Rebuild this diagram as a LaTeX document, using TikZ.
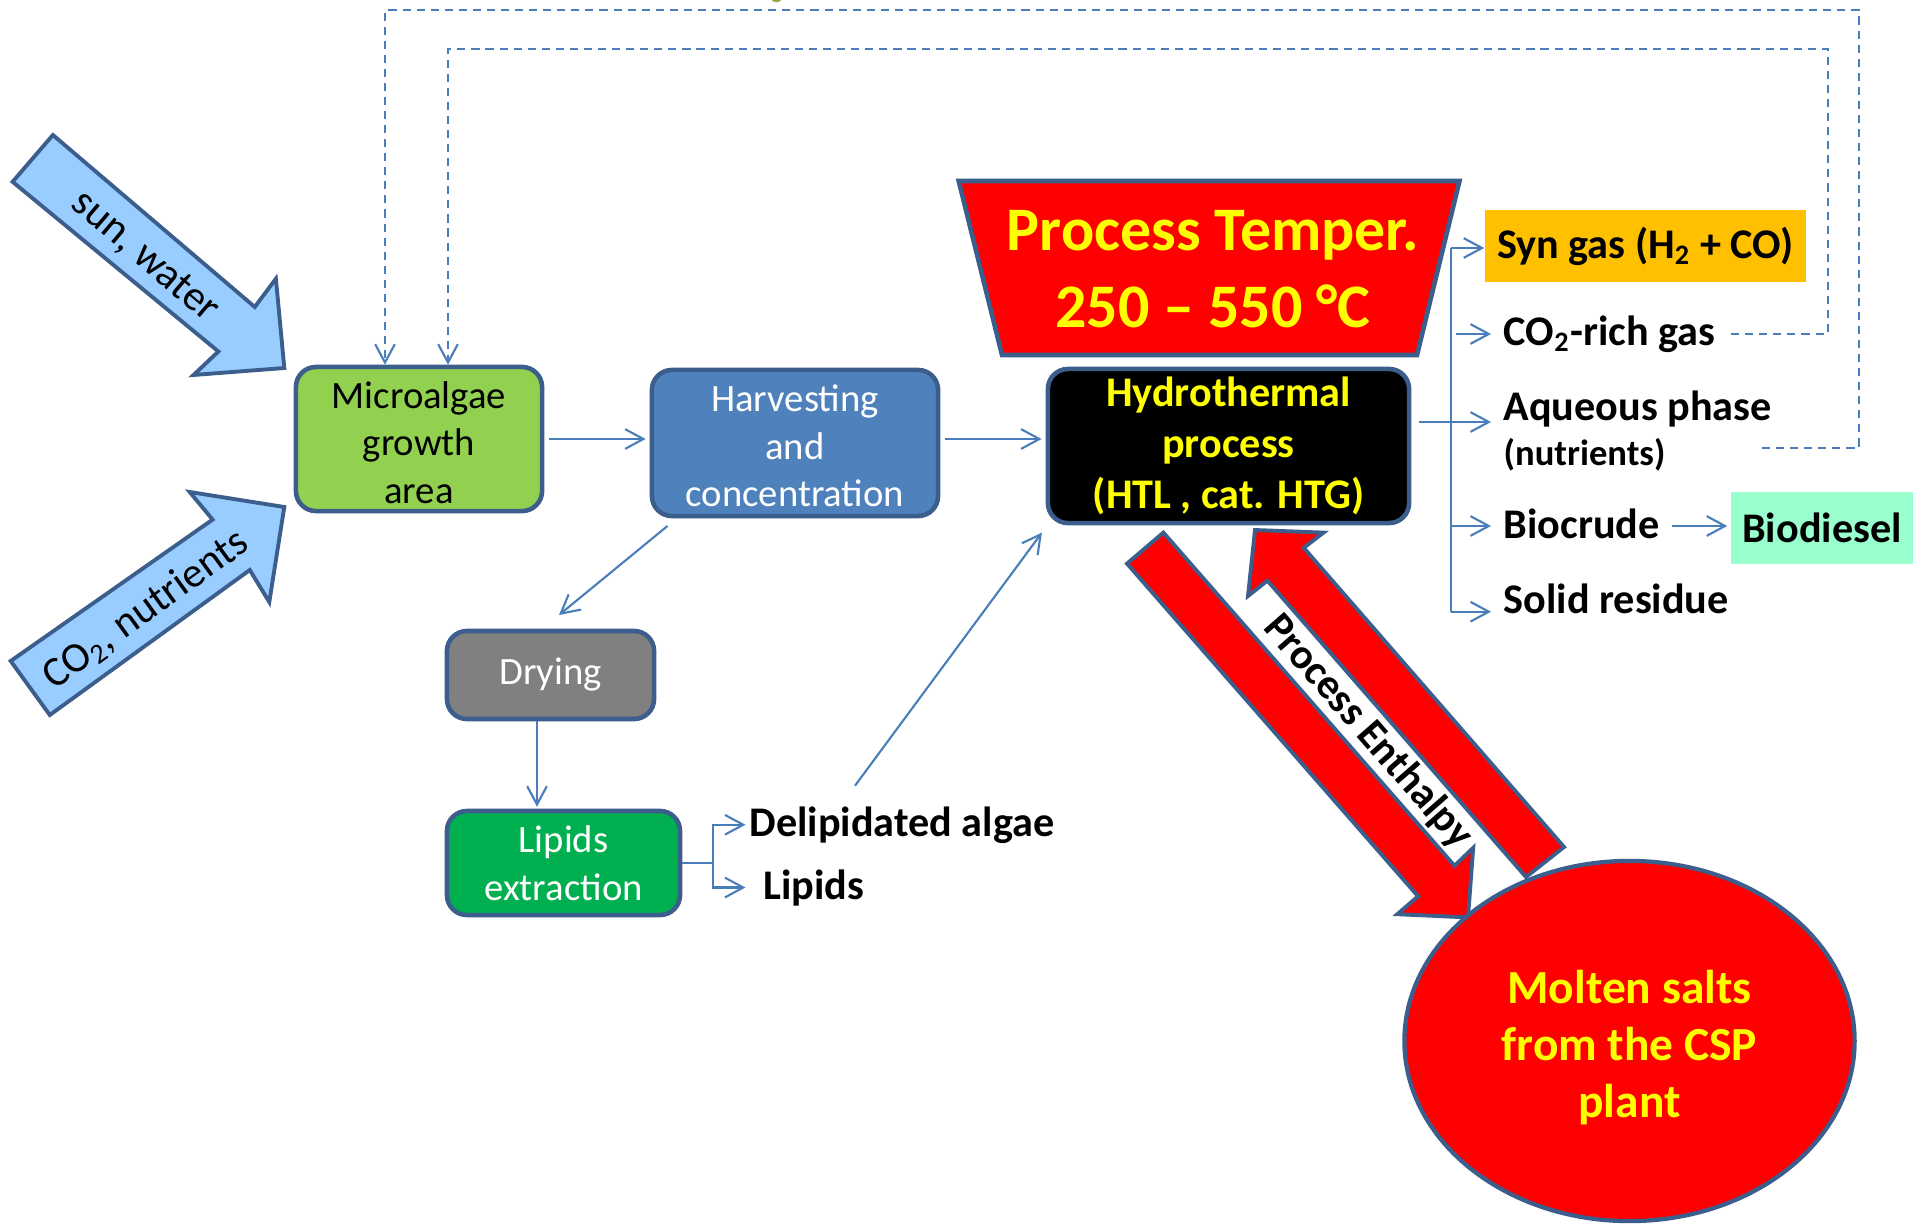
\documentclass[tikz,border=0pt]{standalone}
\usepackage{fontspec}
\setmainfont{Carlito}
\usetikzlibrary{arrows.meta,shapes.geometric,calc}
\definecolor{bord}{HTML}{3B5E8C}
\definecolor{connc}{HTML}{4A7EBB}
\definecolor{lblue}{HTML}{99CCFF}
\definecolor{lgreen}{HTML}{92D050}
\definecolor{hblue}{HTML}{4F81BD}
\definecolor{gbox}{HTML}{808080}
\definecolor{dgreen}{HTML}{00B050}
\definecolor{orng}{HTML}{FFC000}
\definecolor{aqua}{HTML}{99FFCC}
\definecolor{yel}{HTML}{FFFF00}
\definecolor{speck}{HTML}{8CAA48}
\tikzset{
  box/.style={draw=bord, line width=1.3pt, rounded corners=0.2cm, align=center, inner sep=0,
    font=\fontsize{11}{13.5}\selectfont},
  connl/.style={draw=connc, line width=0.6pt},
  conn/.style={connl, -{Straight Barb[length=5.2pt,width=5.6pt,line width=0.6pt]}},
  fb/.style={conn, dash pattern=on 2.3pt off 1.7pt},
  lbl/.style={inner sep=0, anchor=base west, font=\bfseries\fontsize{12}{14.4}\selectfont},
  blockarrow/.style={draw=bord, line width=1.1pt, line join=miter},
}
\begin{document}
\begin{tikzpicture}[x=0.01cm,y=-0.01cm]
\path[use as bounding box, fill=white] (0,0) rectangle (1915,1224);
\fill[speck] (776.5,0) ellipse [x radius=4.5, y radius=2.2];

% input block arrows
\draw[blockarrow, fill=lblue] (12.6,181.8) -- (52.9,135) -- (254.8,307) -- (275.9,278.7) -- (284.3,368) -- (193.5,375) -- (218.4,351.5) -- cycle;
\draw[blockarrow, fill=lblue] (10.7,661) -- (49.8,715) -- (249.8,570) -- (269.3,602) -- (284.3,507) -- (189.7,492) -- (212.6,519.6) -- cycle;
\node[rotate=-40.4, font=\fontsize{12}{14}\selectfont] (sunw) at (145,257) {sun, water};
\node[rotate=35.8, font=\fontsize{12}{14}\selectfont] (co2n) at (146,610) {CO\textsubscript{2}, nutrients};

% process boxes
\node[box, fill=lgreen, minimum width=2.46cm, minimum height=1.44cm] (micro) at (419,439) {\rule{0pt}{9.6pt}Microalgae\\growth\\area};
\node[box, fill=hblue, text=white, minimum width=2.86cm, minimum height=1.46cm] (harv) at (795,443) {\rule{0pt}{9.2pt}Harvesting\\and\\concentration};
\node[box, fill=gbox, text=white, minimum width=2.07cm, minimum height=0.88cm] (dry) at (550.5,675) {Drying};
\node[box, fill=dgreen, text=white, minimum width=2.33cm, minimum height=1.04cm] (lipid) at (563.5,863) {Lipids\\extraction};
\node[box, fill=black, text=yel, minimum width=3.61cm, minimum height=1.54cm,
      font=\bfseries\fontsize{12}{14.5}\selectfont] (hydro) at (1228.5,446) {Hydrothermal\\process\\(HTL , cat. HTG)};

% temperature trapezoid
\draw[blockarrow, line width=1.3pt, fill=red] (958.7,181) -- (1459.5,181) -- (1417,355) -- (1002,355) -- cycle;
\node[anchor=base, inner sep=0, text=yel, font=\bfseries\fontsize{17.6}{21}\selectfont] (ptemp) at (1213,250) {Process Temper.};
\node[anchor=base, inner sep=0, text=yel, font=\bfseries\fontsize{17.6}{21}\selectfont] (prange) at (1213,327) {250 – 550 °C};

% products
\node[fill=orng, minimum width=3.21cm, minimum height=0.72cm, inner sep=0,
      font=\bfseries\fontsize{12}{14.4}\selectfont] (syn) at (1645.5,246) {Syn gas (H\textsubscript{2} + CO)};
\node[lbl] (co2) at (1503,345) {CO\textsubscript{2}-rich gas};
\node[lbl] (aq) at (1503,420) {Aqueous phase};
\node[lbl, font=\bfseries\fontsize{10.4}{12}\selectfont] (nut) at (1503,465) {(nutrients)};
\node[lbl] (bioc) at (1503,538) {Biocrude};
\node[lbl] (solid) at (1503,613) {Solid residue};
\node[fill=aqua, minimum width=1.82cm, minimum height=0.72cm, inner sep=0,
      font=\bfseries\fontsize{12}{14.4}\selectfont] (biod) at (1822,528) {Biodiesel};
\node[lbl] (delip) at (749,836) {Delipidated algae};
\node[lbl] (lips) at (763,899) {Lipids};

% enthalpy arrows and molten salts
\draw[blockarrow, fill=red] (1127,563.6) -- (1163.4,532.6) -- (1454.5,865.8) -- (1473.2,847.8) -- (1468,917.4) -- (1397.3,914.2) -- (1418.1,896.3) -- cycle;
\draw[blockarrow, fill=red] (1564,847) -- (1526,877) -- (1267.4,580.6) -- (1248,596) -- (1255,530) -- (1323.5,532.6) -- (1303.7,547.8) -- cycle;
\node[rotate=-48.85, font=\bfseries\fontsize{12}{14}\selectfont] (penth) at (1368,732) {Process Enthalpy};
\node[ellipse, draw=bord, line width=1.2pt, fill=red, minimum width=4.5cm, minimum height=3.6cm, inner sep=0,
      align=center, text=yel, font=\bfseries\fontsize{13.5}{16.3}\selectfont] (csp) at (1629.5,1041) {\rule{0pt}{13.2pt}Molten salts\\from the CSP\\plant};

% main flow connectors
\draw[conn, shorten <=0.05cm, shorten >=0.04cm] (micro.east) -- (micro.east -| harv.west);
\draw[conn, shorten <=0.05cm, shorten >=0.04cm] (harv.east |- micro.east) -- (micro.east -| hydro.west);
\draw[conn] ($(harv.south west)+(17.8,7.7)$) -- ($(dry.north)+(8.5,-13.7)$);
\draw[conn] ($(dry.south)+(-13.5,0)$) -- ($(lipid.north)+(-26.5,-2)$);
\draw[conn, shorten >=0.035cm] (lipid.east) -- ++(31,0) |- (delip.west);
\draw[conn, shorten >=0.175cm] (lipid.east) -- ++(31,0) |- (lips.west);
\draw[conn] ($(delip.north west)+(106,-20)$) -- ($(hydro.south west)+(-3.7,7.3)$);

% product branch
\coordinate (vtop) at (1451,248);
\coordinate (vco2) at (1451,334);
\coordinate (vaq) at (1451,422);
\coordinate (vbio) at (1451,526);
\coordinate (vbot) at (1451,611.7);
\draw[connl] (vtop) -- (vbot);
\draw[conn] (vtop) -- (vtop -| syn.west);
\draw[conn, shorten <=0.05cm, shorten >=0.12cm] (vco2) -- (vco2 -| co2.west);
\draw[conn, shorten <=0.08cm, shorten >=0.12cm] (vaq -| hydro.east) -- (vaq -| aq.west);
\draw[conn, shorten >=0.12cm] (vbio) -- (vbio -| bioc.west);
\draw[conn, shorten >=0.12cm] (vbot) -- (vbot -| solid.west);
\draw[conn, shorten <=0.12cm, shorten >=0.03cm] (bioc.east |- vbio) -- (vbio -| biod.west);

% recycle loops
\coordinate (fbin) at (1828,49);
\coordinate (fbout) at (1859,10);
\coordinate (aqfb) at (1762,448);
\draw[fb, shorten <=0.15cm] (co2.east) -| (fbin) -| ($(micro.north)+(29,0)$);
\draw[fb] (aqfb) -| (fbout) -| ($(micro.north)+(-34,0)$);
\end{tikzpicture}
\end{document}
